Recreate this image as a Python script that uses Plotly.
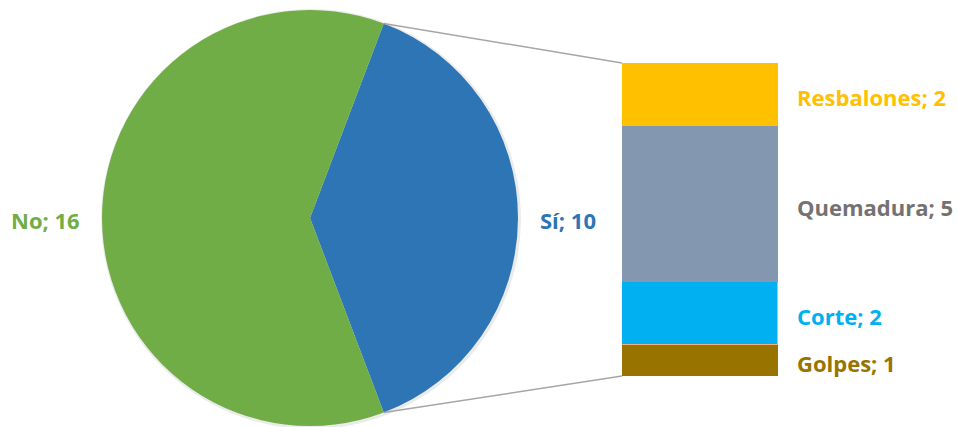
import math
import plotly.graph_objects as go

# Main pie: whether an accident happened
pie_labels = ["Sí", "No"]
pie_values = [10, 16]
pie_colors = ["#2E75B6", "#70AD47"]

# Breakdown of the "Sí" slice, listed bottom to top in the stacked bar
bar_labels = ["Golpes", "Corte", "Quemadura", "Resbalones"]
bar_values = [1, 2, 5, 2]
bar_colors = ["#997300", "#00B0F0", "#8497B0", "#FFC000"]
bar_text_colors = ["#997300", "#00B0F0", "#767171", "#FFC000"]

W, H = 958, 427
FONT = "Open Sans"
FSIZE = 22

# pie geometry in pixels (top-left origin)
cx, cy, r = 310, 218, 208
# stacked bar geometry in pixels
bx0, bx1, by_top, by_bot = 622, 778, 63, 376

total = sum(pie_values)
si_span = 360.0 * pie_values[0] / total
rotation = 90 - si_span / 2  # centre the "Sí" slice at 3 o'clock

fig = go.Figure()

fig.add_trace(go.Pie(
    labels=pie_labels, values=pie_values, sort=False, direction="clockwise",
    rotation=rotation, marker=dict(colors=pie_colors, line=dict(width=0)),
    textinfo="none", hoverinfo="label+value", showlegend=False,
    domain=dict(x=[(cx - r) / W, (cx + r) / W],
                y=[(H - cy - r) / H, (H - cy + r) / H]),
))

for lab, val, col in zip(bar_labels, bar_values, bar_colors):
    line = dict(width=1.5, color="#F4B183") if lab == "Corte" else dict(width=0)
    fig.add_trace(go.Bar(
        x=[0], y=[val], name=lab, marker=dict(color=col, line=line),
        width=1, showlegend=False, xaxis="x", yaxis="y",
    ))

bar_total = sum(bar_values)

# connector lines from the edges of the "Sí" slice to the bar
half = math.radians(si_span / 2)
px = cx + r * math.cos(half)
py_top = cy - r * math.sin(half)
py_bot = cy + r * math.sin(half)
shapes = [
    # soft shadow under the pie
    dict(type="circle", xref="paper", yref="paper", layer="below",
         x0=(cx - r - 1) / W, x1=(cx + r + 3) / W,
         y0=1 - (cy + r + 3) / H, y1=1 - (cy - r - 1) / H,
         fillcolor="rgba(0,0,0,0.08)", line=dict(width=0)),
    dict(type="line", xref="paper", yref="paper",
         x0=px / W, y0=1 - py_top / H, x1=bx0 / W, y1=1 - by_top / H,
         line=dict(color="#A6A6A6", width=1.5)),
    dict(type="line", xref="paper", yref="paper",
         x0=px / W, y0=1 - py_bot / H, x1=bx0 / W, y1=1 - by_bot / H,
         line=dict(color="#A6A6A6", width=1.5)),
]

annotations = []
# pie labels
annotations.append(dict(
    text=f"<b>{pie_labels[1]}; {pie_values[1]}</b>", x=45 / W, y=1 - 220 / H,
    xref="paper", yref="paper", showarrow=False, xanchor="center", yanchor="middle",
    font=dict(family=FONT, size=FSIZE, color=pie_colors[1])))
annotations.append(dict(
    text=f"<b>{pie_labels[0]}; {pie_values[0]}</b>", x=568 / W, y=1 - 220 / H,
    xref="paper", yref="paper", showarrow=False, xanchor="center", yanchor="middle",
    font=dict(family=FONT, size=FSIZE, color=pie_colors[0])))

# bar segment labels
cum = 0
for lab, val, tc in zip(bar_labels, bar_values, bar_text_colors):
    mid = cum + val / 2
    cum += val
    annotations.append(dict(
        text=f"<b>{lab}; {val}</b>", x=795 / W, y=mid, xref="paper", yref="y",
        showarrow=False, xanchor="left", yanchor="middle", yshift=-3,
        font=dict(family=FONT, size=FSIZE, color=tc)))

fig.update_layout(
    width=W, height=H, margin=dict(l=0, r=0, t=0, b=0),
    paper_bgcolor="white", plot_bgcolor="rgba(0,0,0,0)",
    barmode="stack", bargap=0,
    xaxis=dict(domain=[bx0 / W, bx1 / W], range=[-0.5, 0.5], visible=False, fixedrange=True),
    yaxis=dict(domain=[1 - by_bot / H, 1 - by_top / H], range=[0, bar_total],
               visible=False, fixedrange=True),
    shapes=shapes, annotations=annotations,
)

fig.write_html("out.html")
